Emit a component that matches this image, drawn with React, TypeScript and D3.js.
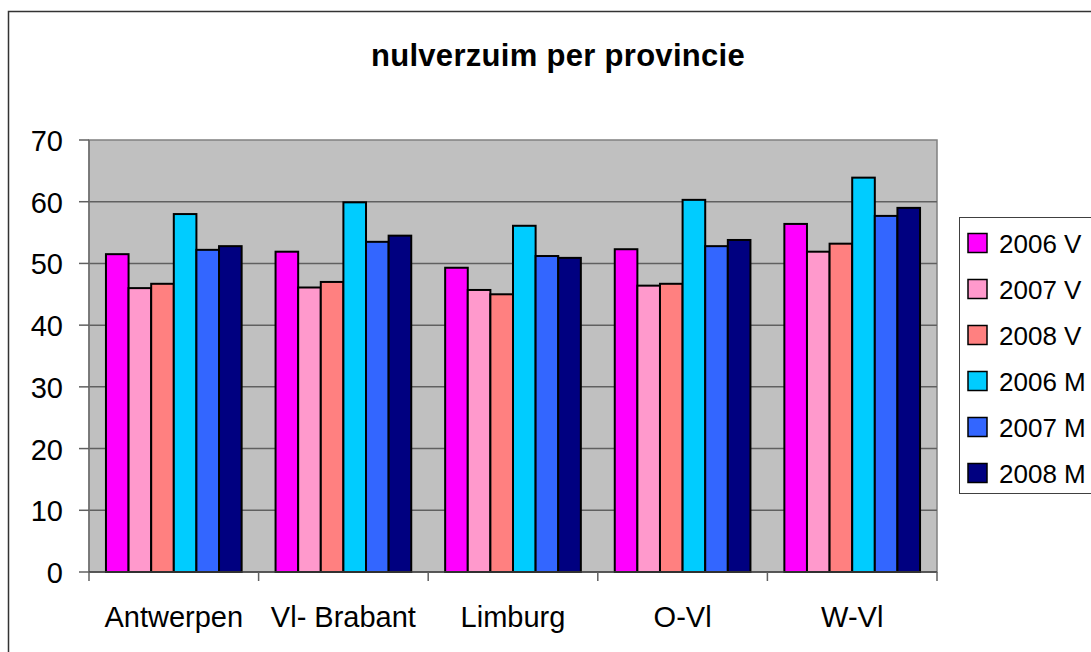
import React from "react";
import * as d3 from "d3";

const categories = ["Antwerpen", "Vl- Brabant", "Limburg", "O-Vl", "W-Vl"];
const seriesNames = ["2006 V", "2007 V", "2008 V", "2006 M", "2007 M", "2008 M"];
const seriesColors = ["#FF00FF", "#FF99CC", "#FF8080", "#00CCFF", "#3366FF", "#000080"];

const v2006 = [51.5, 51.9, 49.3, 52.3, 56.4];
const v2007 = [46.0, 46.1, 45.7, 46.4, 51.9];
const v2008 = [46.7, 47.0, 45.0, 46.7, 53.2];
const m2006 = [58.0, 59.9, 56.1, 60.3, 63.9];
const m2007 = [52.2, 53.5, 51.2, 52.8, 57.7];
const m2008 = [52.8, 54.5, 50.9, 53.8, 59.0];
const seriesValues = [v2006, v2007, v2008, m2006, m2007, m2008];

const yTicks = [0, 10, 20, 30, 40, 50, 60, 70];

const font = "'Liberation Sans', Arial, sans-serif";

export default function App() {
  const W = 1091, H = 652;
  const left = 89, right = 937, top = 140, bottom = 572;

  const x = d3.scaleBand<string>()
    .domain(categories)
    .range([left, right])
    .paddingInner(0.2)
    .paddingOuter(0.1);
  const xs = d3.scaleBand<string>()
    .domain(seriesNames)
    .range([0, x.bandwidth()]);
  const y = d3.scaleLinear().domain([0, 70]).range([bottom, top]);

  const step = x.step();
  const catTicks = d3.range(categories.length + 1).map(i => left + i * step);

  return (
    <div style={{ position: "absolute", left: 0, top: 0 }}>
      <svg width={W} height={H} style={{ display: "block", fontFamily: font }}>
        <rect x={0} y={0} width={W} height={H} fill="#fff" />
        {/* chart area border */}
        <rect x={8.5} y={11.5} width={W + 20} height={H + 20} fill="none" stroke="#333" strokeWidth={1.5} />

        <text x={558} y={66} textAnchor="middle" fontSize={31} fontWeight="bold" letterSpacing={0.3}>
          nulverzuim per provincie
        </text>

        {/* plot area */}
        <rect x={left} y={top} width={right - left} height={bottom - top} fill="#C0C0C0" stroke="#808080" strokeWidth={1.5} />

        {yTicks.filter(t => t > 0 && t < 70).map(t => (
          <line key={"g" + t} x1={left} x2={right} y1={y(t)} y2={y(t)} stroke="#606060" strokeWidth={1.5} />
        ))}

        {/* y axis */}
        <line x1={left} x2={left} y1={top} y2={bottom} stroke="#707070" strokeWidth={1.5} />
        {yTicks.map(t => (
          <g key={"y" + t}>
            <line x1={left - 10} x2={left} y1={y(t)} y2={y(t)} stroke="#606060" strokeWidth={1.5} />
            <text x={63} y={y(t) + 11} textAnchor="end" fontSize={29}>{t}</text>
          </g>
        ))}

        {/* bars */}
        {categories.map((c, ci) => (
          <g key={c} transform={`translate(${x(c)},0)`}>
            {seriesNames.map((s, si) => {
              const v = seriesValues[si][ci];
              return (
                <rect
                  key={s}
                  x={xs(s)}
                  y={y(v)}
                  width={xs.bandwidth()}
                  height={y(0) - y(v)}
                  fill={seriesColors[si]}
                  stroke="#000"
                  strokeWidth={2}
                />
              );
            })}
          </g>
        ))}

        {/* x axis */}
        <line x1={left} x2={right} y1={bottom} y2={bottom} stroke="#404040" strokeWidth={1.5} />
        {catTicks.map((t, i) => (
          <line key={"xt" + i} x1={t} x2={t} y1={bottom} y2={bottom + 9} stroke="#606060" strokeWidth={1.5} />
        ))}
        {categories.map(c => (
          <text key={"xl" + c} x={(x(c) as number) + x.bandwidth() / 2} y={627} textAnchor="middle" fontSize={29}>
            {c}
          </text>
        ))}

        {/* legend */}
        <rect x={959.5} y={217.5} width={200} height={276} fill="#fff" stroke="#404040" strokeWidth={1} />
        {seriesNames.map((s, i) => {
          const cy = 243 + i * 46;
          return (
            <g key={"lg" + s}>
              <rect x={968} y={cy - 9.5} width={19} height={19} fill={seriesColors[i]} stroke="#000" strokeWidth={1.5} />
              <text x={999} y={cy + 10} fontSize={26}>{s}</text>
            </g>
          );
        })}
      </svg>
    </div>
  );
}
